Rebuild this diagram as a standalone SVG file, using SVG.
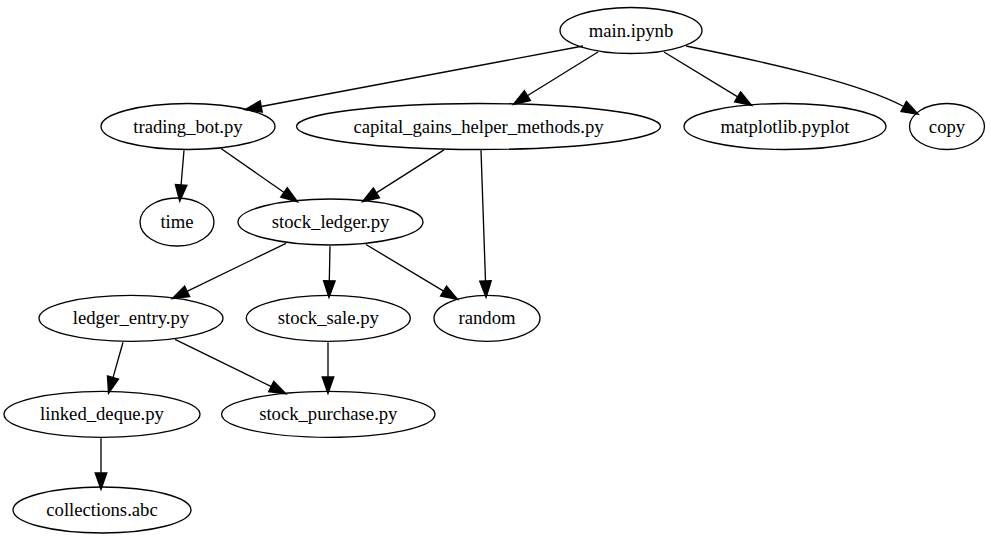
<svg xmlns="http://www.w3.org/2000/svg" width="991" height="539" viewBox="0 0 991 539">
<style>
.node ellipse{fill:none;stroke:#000;stroke-width:1.33}
.node text{font-family:"Times New Roman","Liberation Serif","DejaVu Serif",serif;font-size:18.67px;text-anchor:middle;fill:#000}
.edges path{fill:none;stroke:#000;stroke-width:1.33;marker-end:url(#arr)}
</style>
<defs>
<marker id="arr" markerUnits="userSpaceOnUse" markerWidth="16" markerHeight="12" viewBox="0 0 13.33 9.33" refX="0" refY="4.67" orient="auto" overflow="visible">
<path d="M0,0 L13.33,4.67 L0,9.33 Z" fill="#000" stroke="#000" stroke-width="1.33"/>
</marker>
</defs>
<rect width="991" height="539" fill="#fff"/>
<g class="edges" id="edges">
<path d="M583,46 L261.1,106.5"/>
<path d="M598,52 L527.3,95.7"/>
<path d="M664,52 L737.7,96.9"/>
<path d="M686,46 C770,63 860,83 903.8,106.5"/>
<path d="M184,150.3 L181.1,185"/>
<path d="M221,148.5 L284.1,192.5"/>
<path d="M444,149.9 L376.3,192.9"/>
<path d="M481,150.3 L485.5,281"/>
<path d="M286,243.3 L187,291.4"/>
<path d="M330,246.3 L329.3,281"/>
<path d="M366,244.5 L443.6,291.1"/>
<path d="M123,342.2 L113,377.6"/>
<path d="M175,339.4 L271.3,386.6"/>
<path d="M328,342.3 L328,377"/>
<path d="M101,438.3 L101,473"/>
</g>
<g class="node" id="main_ipynb"><ellipse cx="631" cy="30.5" rx="71" ry="23"/><text x="631" y="36.5">main.ipynb</text></g>
<g class="node" id="trading_bot"><ellipse cx="188" cy="126.5" rx="87" ry="23"/><text x="188" y="132.5">trading_bot.py</text></g>
<g class="node" id="capital_gains"><ellipse cx="478.5" cy="126.5" rx="182" ry="23"/><text x="478.5" y="132.5">capital_gains_helper_methods.py</text></g>
<g class="node" id="matplotlib"><ellipse cx="785" cy="126.5" rx="101" ry="23"/><text x="785" y="132.5">matplotlib.pyplot</text></g>
<g class="node" id="copy"><ellipse cx="947" cy="126.5" rx="37.5" ry="23"/><text x="947" y="132.5">copy</text></g>
<g class="node" id="time"><ellipse cx="177" cy="222" rx="37" ry="24"/><text x="177" y="228">time</text></g>
<g class="node" id="stock_ledger"><ellipse cx="330.5" cy="222" rx="92.5" ry="23"/><text x="330.5" y="228">stock_ledger.py</text></g>
<g class="node" id="ledger_entry"><ellipse cx="131" cy="318.3" rx="92" ry="23"/><text x="131" y="324.3">ledger_entry.py</text></g>
<g class="node" id="stock_sale"><ellipse cx="328.3" cy="318.3" rx="82" ry="23"/><text x="328.3" y="324.3">stock_sale.py</text></g>
<g class="node" id="random"><ellipse cx="487" cy="318.3" rx="53" ry="23"/><text x="487" y="324.3">random</text></g>
<g class="node" id="linked_deque"><ellipse cx="102" cy="414.3" rx="98" ry="23"/><text x="102" y="420.3">linked_deque.py</text></g>
<g class="node" id="stock_purchase"><ellipse cx="328.3" cy="414.3" rx="106.7" ry="23"/><text x="328.3" y="420.3">stock_purchase.py</text></g>
<g class="node" id="collections_abc"><ellipse cx="102" cy="510" rx="89" ry="23"/><text x="102" y="516">collections.abc</text></g>
</svg>
